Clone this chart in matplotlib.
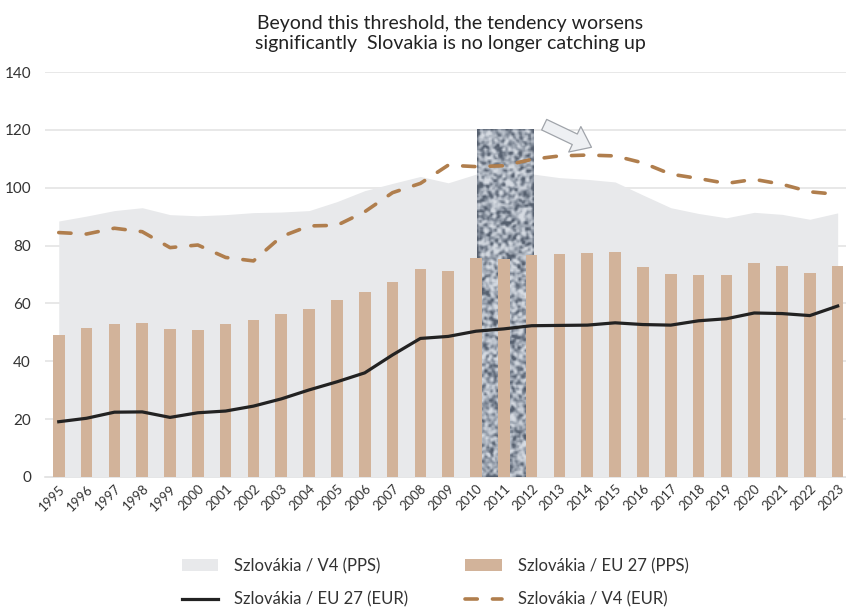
import numpy as np
import matplotlib.pyplot as plt
import matplotlib.patches as patches
from matplotlib.colors import LinearSegmentedColormap

plt.rcParams['font.family'] = ['Lato', 'DejaVu Sans']

years = list(range(1995, 2024))
# Szlovákia / V4 (PPS) - grey area
v4_pps = [88.5, 90.2, 92.1, 93.1, 90.7, 90.3, 90.7, 91.4, 91.6, 92.1,
          95.2, 99.0, 101.5, 103.9, 101.7, 104.7, 105.0, 104.8, 103.5, 102.9,
          102.0, 97.5, 93.1, 91.1, 89.6, 91.5, 90.8, 89.1, 91.3]
# Szlovákia / EU 27 (PPS) - bars
eu_pps = [49.1, 51.4, 52.8, 53.1, 51.2, 50.9, 52.9, 54.4, 56.5, 58.1,
          61.2, 64.0, 67.4, 71.9, 71.2, 75.7, 75.4, 76.7, 77.1, 77.5,
          77.9, 72.7, 70.1, 69.7, 69.8, 74.0, 73.0, 70.5, 72.8]
# Szlovákia / EU 27 (EUR) - black line
eu_eur = [19.1, 20.3, 22.4, 22.5, 20.6, 22.2, 22.8, 24.5, 27.0, 30.1,
          32.9, 36.0, 42.2, 47.9, 48.6, 50.4, 51.2, 52.3, 52.4, 52.5,
          53.3, 52.7, 52.5, 54.0, 54.7, 56.7, 56.5, 55.8, 59.1]
# Szlovákia / V4 (EUR) - dashed line
v4_eur = [84.5, 84.0, 86.0, 84.8, 79.3, 80.2, 75.9, 74.7, 83.1, 86.8,
          87.0, 91.7, 98.3, 101.5, 107.8, 107.3, 107.6, 109.8, 111.0, 111.3,
          111.0, 108.6, 104.7, 103.2, 101.5, 102.9, 101.2, 98.6, 97.7]

fig = plt.figure(figsize=(8.46, 6.08), dpi=100)
ax = fig.add_axes([0.053, 0.2155, 0.947, 0.666])

ax.fill_between(years, 0, v4_pps, color='#e8e9eb', lw=0, zorder=1,
                label='Szlovákia / V4 (PPS)')

# textured highlight block
rng = np.random.default_rng(3)
noise = rng.random((230, 38))
k = np.array([0.25, 0.5, 0.25])
noise = np.apply_along_axis(lambda r: np.convolve(r, k, mode='same'), 0, noise)
noise = np.apply_along_axis(lambda r: np.convolve(r, k, mode='same'), 1, noise)
noise = np.clip((noise - 0.3) / 0.4, 0, 1)
cmap = LinearSegmentedColormap.from_list('tx', ['#56606f', '#8c95a2', '#b8bfc9', '#d6dbe2'])
ax.imshow(noise, extent=(2010.03, 2012.05, 0, 120), aspect='auto', cmap=cmap,
          zorder=2, interpolation='bilinear')

ax.bar(years, eu_pps, width=0.42, color='#d2b39a', zorder=3,
       label='Szlovákia / EU 27 (PPS)')
ax.plot(years, eu_eur, color='#222222', lw=2.3, zorder=4,
        label='Szlovákia / EU 27 (EUR)')
ax.plot(years, v4_eur, color='#b07e4d', lw=2.6, zorder=4, dashes=(3.4, 4.2),
        dash_capstyle='round', label='Szlovákia / V4 (EUR)')

# arrow
arr = patches.FancyArrowPatch((2012.45, 121.8), (2014.15, 114.0),
                              arrowstyle='simple,head_width=1.45,head_length=0.95,tail_width=0.6',
                              mutation_scale=14, fc='#eef0f3', ec='#a0a4aa', lw=0.9,
                              zorder=5, clip_on=False, shrinkA=0, shrinkB=0)
ax.add_patch(arr)

ax.set_xlim(1994.5, 2023.3)
ax.set_ylim(0, 140)
ax.set_yticks(range(0, 141, 20))
ax.set_xticks(years)
ax.set_xticklabels([str(y) for y in years], rotation=45, ha='right',
                   rotation_mode='anchor', fontsize=9.5, color='#333333')
ax.tick_params(axis='y', length=0, pad=10, labelsize=11, labelcolor='#333333')
ax.tick_params(axis='x', length=0, pad=4)
for y in range(20, 141, 20):
    ax.axhline(y, color='#e2e2e2', lw=1.1, zorder=0)
for s in ['top', 'right', 'left']:
    ax.spines[s].set_visible(False)
ax.spines['bottom'].set_color('#dcdcdc')
ax.spines['bottom'].set_linewidth(1.1)
ax.spines['bottom'].set_zorder(0)

fig.text(0.532, 0.975, 'Beyond this threshold, the tendency worsens\nsignificantly  Slovakia is no longer catching up',
         ha='center', va='top', fontsize=14, color='#222222', linespacing=1.2)

h, l = ax.get_legend_handles_labels()
order = [0, 1, 3, 2]
fig.legend([h[i] for i in order], [l[i] for i in order], ncol=2,
           loc='lower left', bbox_to_anchor=(0.203, -0.016), frameon=False,
           fontsize=12, columnspacing=3.4, handlelength=2.2, labelspacing=1.05,
           handletextpad=0.96, labelcolor='#333333', borderaxespad=0.2)

fig.savefig('out.png', dpi=100)
